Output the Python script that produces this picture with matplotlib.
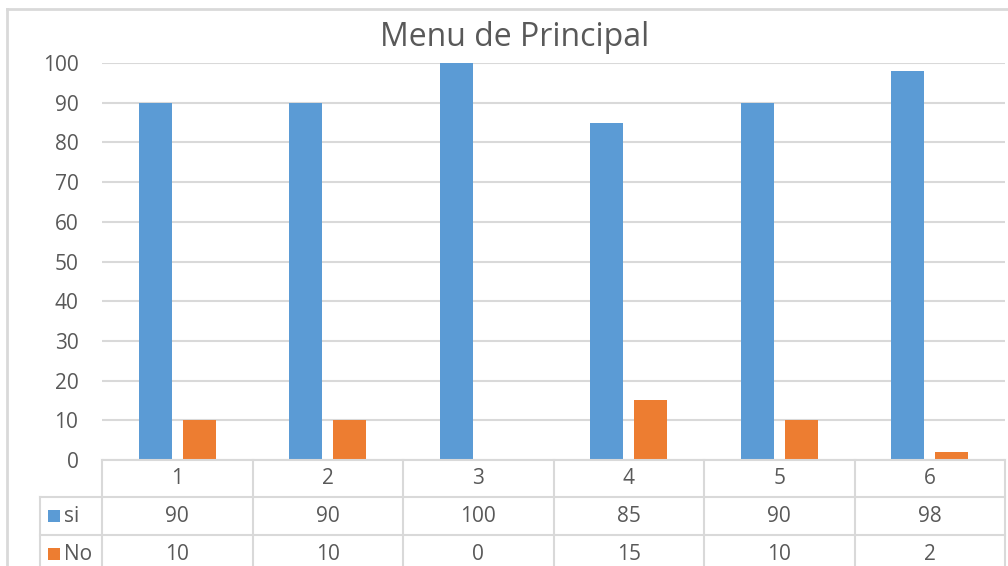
import matplotlib.pyplot as plt
from matplotlib.lines import Line2D
from matplotlib.patches import Rectangle
import numpy as np

plt.rcParams['font.family'] = ['Open Sans', 'DejaVu Sans']

categories = ['1', '2', '3', '4', '5', '6']
si = [90, 90, 100, 85, 90, 98]
no = [10, 10, 0, 15, 10, 2]
series_names = ['si', 'No']
title = 'Menu de Principal'

BLUE = '#5B9BD5'
ORANGE = '#ED7D31'
GRID = '#D9D9D9'
TEXT = '#595959'

W, H = 1008, 566
fig = plt.figure(figsize=(W / 100, H / 100), dpi=100)


def fx(px):
    return px / W


def fy(py):
    return 1 - py / H


# plot area in pixel terms
left, right, top, base = 102, 1005, 63, 460
ax = fig.add_axes([fx(left), fy(base), fx(right) - fx(left), fy(top) - fy(base)])

x = np.arange(len(categories))
bw = 0.22
off = 0.145
ax.bar(x - off, si, bw, color=BLUE, zorder=3)
ax.bar(x + off, no, bw, color=ORANGE, zorder=3)

ax.set_xlim(-0.5, len(categories) - 0.5)
ax.set_ylim(0, 100)
ax.set_yticks(range(0, 101, 10))
ax.tick_params(axis='y', length=0, labelsize=15, labelcolor=TEXT, pad=17)
ax.set_xticks([])
ax.yaxis.grid(True, color=GRID, lw=1.5, zorder=0)
ax.set_axisbelow(True)
for s in ax.spines.values():
    s.set_visible(False)

# chart frame (cut off on the right and bottom)
fig.add_artist(Line2D([fx(7), fx(7)], [fy(9), 0], color=GRID, lw=2))
fig.add_artist(Line2D([fx(7), 1], [fy(9), fy(9)], color=GRID, lw=2))

fig.text(fx(515), fy(38), title, ha='center', va='center', fontsize=23, color=TEXT)

# data table under the axis
rows = [460, 497, 535, 573]
col_edges = [left + i * (right - left) / len(categories) for i in range(len(categories) + 1)]
legend_left = 40

fig.add_artist(Line2D([fx(left), fx(right)], [fy(rows[0])] * 2, color=GRID, lw=1.5))
for r in rows[1:]:
    fig.add_artist(Line2D([fx(legend_left), fx(right)], [fy(r)] * 2, color=GRID, lw=1.5))
for c in col_edges:
    fig.add_artist(Line2D([fx(c)] * 2, [fy(rows[0]), fy(rows[-1])], color=GRID, lw=1.5))
fig.add_artist(Line2D([fx(legend_left)] * 2, [fy(rows[1]), fy(rows[-1])], color=GRID, lw=1.5))

centers = [(col_edges[i] + col_edges[i + 1]) / 2 for i in range(len(categories))]
row_mid = [(rows[i] + rows[i + 1]) / 2 for i in range(3)]
for cx, lab in zip(centers, categories):
    fig.text(fx(cx), fy(row_mid[0]), lab, ha='center', va='center', fontsize=15, color=TEXT)
for r, vals in zip(row_mid[1:], [si, no]):
    for cx, v in zip(centers, vals):
        fig.text(fx(cx), fy(r), str(v), ha='center', va='center', fontsize=15, color=TEXT)

for r, name, col in zip(row_mid[1:], series_names, [BLUE, ORANGE]):
    fig.add_artist(Rectangle((fx(48), fy(r + 6)), fx(12), fy(0) - fy(12),
                             facecolor=col, edgecolor='none'))
    fig.text(fx(64), fy(r), name, ha='left', va='center', fontsize=15, color=TEXT)

fig.savefig('out.png', dpi=100)
